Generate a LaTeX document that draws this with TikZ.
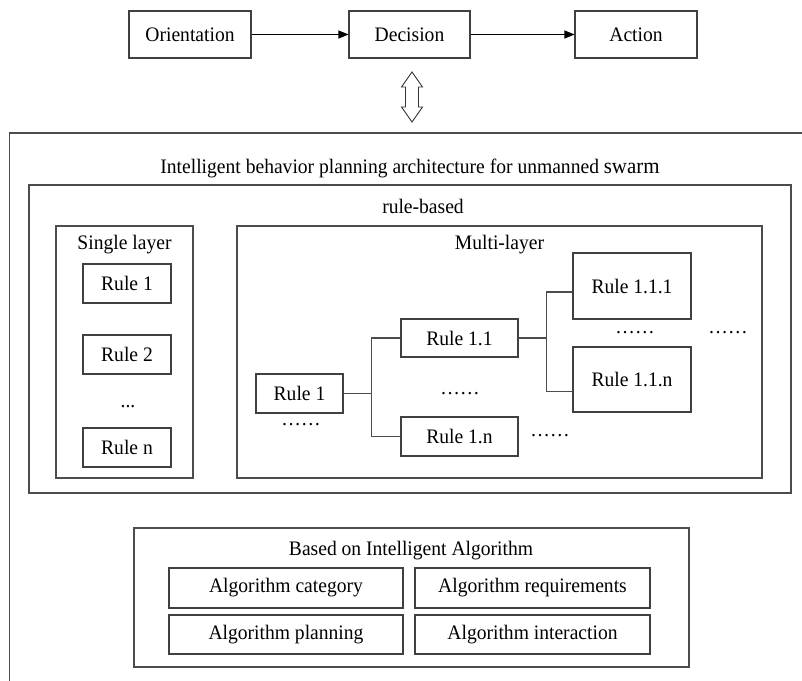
\documentclass[tikz,border=0pt]{standalone}
\usepackage{fontspec}
\setmainfont{Liberation Serif}[FakeStretch=0.95]
\usetikzlibrary{arrows.meta,calc}
\begin{document}
\begin{tikzpicture}[x=1pt,y=-1pt,
  txt/.style={font=\fontsize{20.6}{24}\selectfont, inner sep=0pt, text=black},
  box/.style={txt, draw=black!75, line width=1.1pt},
  frame/.style={draw=black!70, line width=1.1pt},
  link/.style={draw=black!70, line width=1.1pt},
  flow/.style={draw=black, line width=1.1pt, -{Triangle[length=10pt,width=8pt]}},
  dots/.style={txt, anchor=base}]
\path[use as bounding box] (0,0) rectangle (802,680);
\clip (0,0) rectangle (802,680);

% decision loop
\node[box, minimum width=122pt, minimum height=47pt] (orient) at (190,34.5) {Orientation};
\node[box, minimum width=121pt, minimum height=47pt] (decide) at (409.5,34.5) {Decision};
\node[box, minimum width=122pt, minimum height=47pt] (act) at (636,34.5) {Action};
\draw[flow] (orient) -- (decide);
\draw[flow] (decide) -- (act);

% two-way block arrow
\coordinate (da) at (412,97);
\draw[black!80, line width=0.9pt, line join=miter]
  ($(da)+(0,-25)$) -- ++(10.5,15) -- ++(-4,0) -- ++(0,20) -- ++(4,0)
  -- ($(da)+(0,25)$) -- ++(-10.5,-15) -- ++(4,0) -- ++(0,-20) -- ++(-4,0) -- cycle;

% architecture frame (runs past the page edges)
\draw[frame] (815,133) -| (9.5,700);
\node[txt] (title) at (410,168) {Intelligent behavior planning architecture for unmanned {\fontsize{22}{24}\selectfont swarm}};

% rule-based part
\node[frame, minimum width=762pt, minimum height=308pt] (rb) at (410,339) {};
\node[txt] (rbt) at (423,206) {rule-based};

\node[frame, minimum width=137pt, minimum height=252pt] (single) at (124.5,352) {};
\node[txt] (singlet) at (124.5,245) {Single layer};
\node[box, minimum width=88pt, minimum height=39pt] (s1) at (127,283.5) {Rule 1};
\node[box, minimum width=88pt, minimum height=39pt] (s2) at (127,354.5) {Rule 2};
\node[dots] (sd) at (128,407) {...};
\node[box, minimum width=88pt, minimum height=39pt] (sn) at (127,447.5) {Rule n};

\node[frame, minimum width=525pt, minimum height=252pt] (multi) at (499.5,352) {};
\node[txt] (multit) at (499.5,245) {Multi-layer};
\node[box, minimum width=87pt, minimum height=39pt] (r1) at (299.5,393.5) {Rule 1};
\node[box, minimum width=117pt, minimum height=38pt] (r11) at (459.5,338) {Rule 1.1};
\node[box, minimum width=117pt, minimum height=39pt] (r1n) at (459.5,436.5) {Rule 1.n};
\node[box, minimum width=118pt, minimum height=66pt] (r111) at (632,286) {Rule 1.1.1};
\node[box, minimum width=118pt, minimum height=65pt] (r11n) at (632,379.5) {Rule 1.1.n};

\coordinate (j1) at ($(r1.east)+(28,0)$);
\coordinate (j2) at ($(r11.east)+(28,0)$);
\draw[link] (r1.east) -- (j1);
\draw[link] (r11.west) -| (j1) |- (r1n.west);
\draw[link] (r11.east) -- (j2);
\draw[link] ([yshift=-6pt]r111.west) -| (j2) |- ([yshift=-12pt]r11n.west);

\node[dots] (d1) at (301,425.5) {……};
\node[dots] (d2) at (460,394.5) {……};
\node[dots] (d3) at (550,436.5) {……};
\node[dots] (d4) at (635,333.5) {……};
\node[dots] (d5) at (728,333.5) {……};

% algorithm part
\node[frame, minimum width=555pt, minimum height=139pt] (alg) at (411.5,597.5) {};
\node[txt] (algt) at (411,551) {Based on Intelligent Algorithm};
\node[box, minimum width=234pt, minimum height=40pt] (acat) at (286,588) {Algorithm category};
\node[box, minimum width=235pt, minimum height=40pt] (areq) at (532.5,588) {Algorithm requirements};
\node[box, minimum width=234pt, minimum height=39pt] (aplan) at (286,634.5) {Algorithm planning};
\node[box, minimum width=235pt, minimum height=39pt] (aint) at (532.5,634.5) {Algorithm interaction};
\end{tikzpicture}
\end{document}
